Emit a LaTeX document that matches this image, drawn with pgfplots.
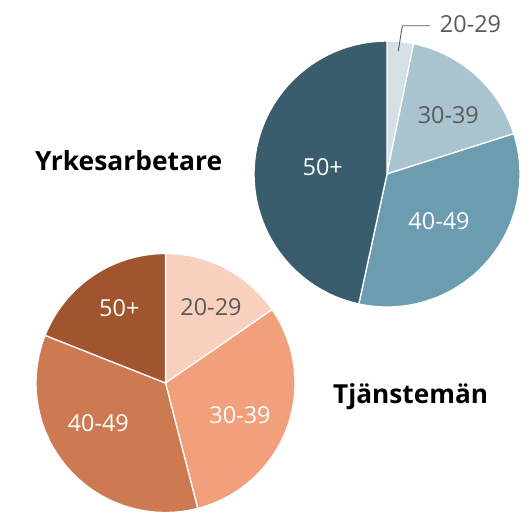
\documentclass[border=0pt]{standalone}
\usepackage{pgfplots}
\pgfplotsset{compat=1.18}
\usepackage{fontspec}
\setmainfont{Open Sans}
\definecolor{ya}{HTML}{D3E1E7}
\definecolor{yb}{HTML}{AAC4CF}
\definecolor{yc}{HTML}{6B9CB0}
\definecolor{yd}{HTML}{3A5D6E}
\definecolor{ta}{HTML}{F9D0BD}
\definecolor{tb}{HTML}{F2A07B}
\definecolor{tc}{HTML}{CD7952}
\definecolor{td}{HTML}{A0552F}
\definecolor{lab}{HTML}{5A5A5A}
\begin{document}
\begin{tikzpicture}
% Yrkesarbetare shares (%)
\def\Ya{3.2}\def\Yb{16.9}\def\Yc{33.3}\def\Yd{46.6}
% Tjanstemän shares (%)
\def\Ta{15.4}\def\Tb{30.6}\def\Tc{35.0}\def\Td{19.0}
\pgfmathsetmacro\YA{90}
\pgfmathsetmacro\YB{\YA-3.6*\Ya}
\pgfmathsetmacro\YC{\YB-3.6*\Yb}
\pgfmathsetmacro\YD{\YC-3.6*\Yc}
\pgfmathsetmacro\YE{\YD-3.6*\Yd}
\pgfmathsetmacro\TA{90}
\pgfmathsetmacro\TB{\TA-3.6*\Ta}
\pgfmathsetmacro\TC{\TB-3.6*\Tb}
\pgfmathsetmacro\TD{\TC-3.6*\Tc}
\pgfmathsetmacro\TE{\TD-3.6*\Td}
\begin{axis}[x=1bp,y=1bp,y dir=reverse,scale only axis,
  xmin=0,xmax=529,ymin=0,ymax=512,hide axis,clip=false,
  every axis plot/.append style={draw=white,line width=1.3pt,samples=50}]
\path (axis cs:0,0) (axis cs:529,512);
% top pie
\addplot[fill=ya,domain=\YB:\YA] ({387+133*cos(x)},{174-133*sin(x)}) -- (axis cs:387,174) -- cycle;
\addplot[fill=yb,domain=\YC:\YB] ({387+133*cos(x)},{174-133*sin(x)}) -- (axis cs:387,174) -- cycle;
\addplot[fill=yc,domain=\YD:\YC] ({387+133*cos(x)},{174-133*sin(x)}) -- (axis cs:387,174) -- cycle;
\addplot[fill=yd,domain=\YE:\YD] ({387+133*cos(x)},{174-133*sin(x)}) -- (axis cs:387,174) -- cycle;
% bottom pie
\addplot[fill=ta,domain=\TB:\TA] ({165.5+129.5*cos(x)},{383-129.5*sin(x)}) -- (axis cs:165.5,383) -- cycle;
\addplot[fill=tb,domain=\TC:\TB] ({165.5+129.5*cos(x)},{383-129.5*sin(x)}) -- (axis cs:165.5,383) -- cycle;
\addplot[fill=tc,domain=\TD:\TC] ({165.5+129.5*cos(x)},{383-129.5*sin(x)}) -- (axis cs:165.5,383) -- cycle;
\addplot[fill=td,domain=\TE:\TD] ({165.5+129.5*cos(x)},{383-129.5*sin(x)}) -- (axis cs:165.5,383) -- cycle;
% leader line
\draw[lab,line width=0.9pt] (axis cs:398.3,51) -- (axis cs:402.3,25.7) -- (axis cs:430,25.7);
\begin{scope}[every node/.style={font=\fontsize{23.5}{28}\selectfont,inner sep=0pt}]
\node[lab] at (axis cs:470.5,24) {20-29};
\node[lab] at (axis cs:448.3,115) {30-39};
\node[white] at (axis cs:439,220.7) {40-49};
\node[white] at (axis cs:322.7,166.7) {50+};
\node[lab] at (axis cs:211,306.7) {20-29};
\node[white] at (axis cs:240,415) {30-39};
\node[white] at (axis cs:98.3,423.3) {40-49};
\node[white] at (axis cs:119.3,308.3) {50+};
\end{scope}
\node[anchor=west,inner sep=0pt,font=\fontsize{26.5}{31}\selectfont\bfseries] at (axis cs:35,160.7) {Yrkesarbetare};
\node[anchor=west,inner sep=0pt,font=\fontsize{26.3}{31}\selectfont\bfseries] at (axis cs:333,397) {Tjänstemän};
\end{axis}
\end{tikzpicture}
\end{document}
